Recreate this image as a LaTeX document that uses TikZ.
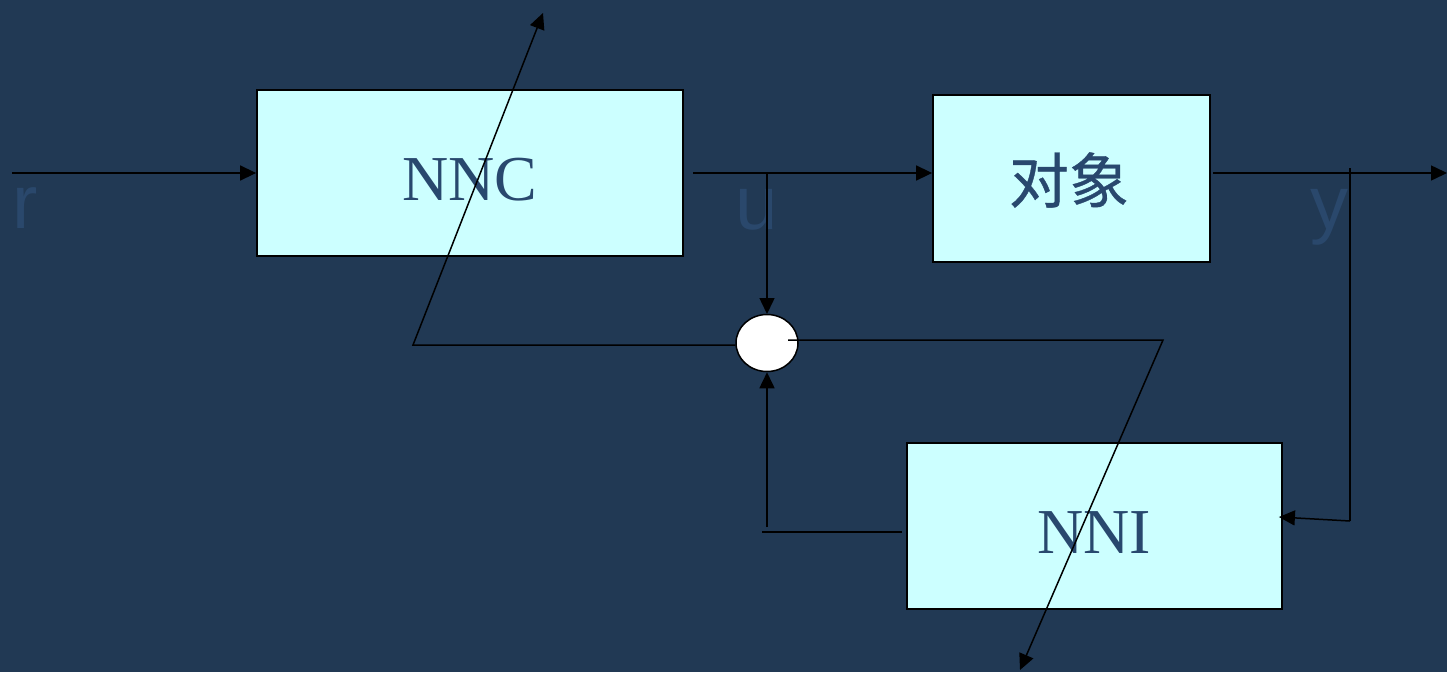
\documentclass[tikz,border=0pt]{standalone}
\usepackage{fontspec}
\setmainfont{Liberation Serif}
\newfontfamily\labfont{Liberation Sans}
\newfontfamily\cjkfont{Noto Sans CJK SC}[FakeBold=0.6]
\usetikzlibrary{arrows.meta,shapes.geometric}
\definecolor{bgcol}{RGB}{33,57,84}
\definecolor{boxfill}{RGB}{204,255,255}
\definecolor{boxtext}{RGB}{40,72,110}
\definecolor{labtext}{RGB}{42,72,108}
\tikzset{
  blockbox/.style={draw=black, line width=1.8pt, fill=boxfill, inner sep=0pt},
  blocktext/.style={text=boxtext, inner sep=0pt, font=\fontsize{64}{64}\selectfont},
  cjktext/.style={text=boxtext, inner sep=0pt, font=\cjkfont\fontsize{60}{60}\selectfont},
  siglabel/.style={text=labtext, inner sep=0pt, anchor=base, font=\labfont\fontsize{76}{76}\selectfont},
  conn/.style={draw=black, line width=1.5pt},
  arr/.style={conn, -{Triangle[length=16pt,width=15pt]}},
  sumnode/.style={ellipse, draw=black, line width=1.5pt, fill=white, minimum width=62pt, minimum height=57pt, inner sep=0pt}
}
\begin{document}
\begin{tikzpicture}[x=1pt,y=-1pt]
\fill[bgcol] (0,0) rectangle (1447,672);
\useasboundingbox (0,0) rectangle (1447,672);

% blocks
\node[blockbox, minimum width=426pt, minimum height=166pt] (nnc) at (470,173) {};
\node[blocktext] (nnctext) at (470,180) {NNC};
\node[blockbox, minimum width=277pt, minimum height=167pt] (obj) at (1071.5,178.5) {};
\node[cjktext] (objtext) at (1069,180) {对象};
\node[blockbox, minimum width=375pt, minimum height=166pt] (nni) at (1094.5,526) {};
\node[blocktext] (nnitext) at (1094,533) {NNI};

% signal labels
\node[siglabel] (rlab) at (25,228) {r};
\node[siglabel] (ulab) at (757,229) {u};
\node[siglabel] (ylab) at (1329,229) {y};

% coordinates
\coordinate (rin) at (12,173);
\coordinate (uout) at (693,173);
\coordinate (ub) at (767,173);
\coordinate (yout) at (1213,173);
\coordinate (yend) at (1447,173);
\coordinate (ytap) at (1350,168);
\coordinate (ycorner) at (1350,521);
\coordinate (c1) at (413,345);
\coordinate (c1top) at (543,13);
\coordinate (sumr) at (788,340);
\coordinate (c2) at (1163,340);
\coordinate (c2end) at (1020,670);
\coordinate (c3) at (762,532);
\coordinate (c4) at (767,527);

% forward path
\draw[arr] (rin) -- (nnc.west);
\draw[arr] (uout) -- (uout -| obj.west);
\draw[arr] (yout) -- (yend);

% summing node
\draw[arr] (ub) -- (767,314);
\node[sumnode] (sum) at (767,343) {};

% feedback from y to NNI
\draw[conn] (ytap) -- (ycorner);
\draw[arr] (ycorner) -- ([yshift=9pt,xshift=-4pt]nni.east);

% NNI to summing node
\draw[conn] ([xshift=-4pt]nni.west |- c3) -- (c3);
\draw[arr] (c4) -- (sum.south);

% adaptation arrows
\draw[arr] (sum.west |- c1) -- (c1) -- (c1top);
\draw[arr] (sumr) -- (c2) -- (c2end);
\end{tikzpicture}
\end{document}
